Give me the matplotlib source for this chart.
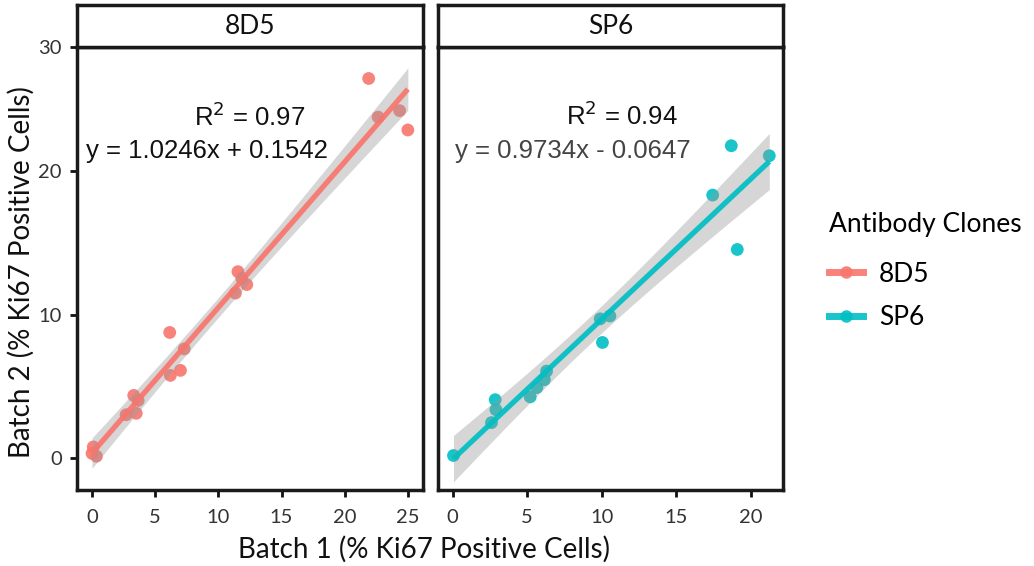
import numpy as np
import matplotlib
matplotlib.use("Agg")
import matplotlib.pyplot as plt
from matplotlib.lines import Line2D

# ---- data ----
clones = ["8D5", "SP6"]
colors = ["#F8766D", "#00BFC4"]

x_8d5 = [0.0, 0.1, 0.35, 2.7, 3.3, 3.5, 3.65, 6.2, 6.15, 7.0, 7.3,
         11.35, 11.55, 11.85, 12.25, 21.9, 22.65, 24.35, 25.0]
y_8d5 = [0.3, 0.75, 0.1, 3.0, 4.35, 3.1, 4.0, 5.75, 8.75, 6.1, 7.6,
         11.5, 13.0, 12.55, 12.1, 26.5, 23.8, 24.25, 22.9]

x_sp6 = [0.05, 2.6, 2.9, 2.85, 5.2, 5.65, 6.15, 6.3, 9.9, 10.05, 10.55,
         17.45, 18.7, 19.1, 21.25]
y_sp6 = [0.15, 2.45, 3.35, 4.05, 4.25, 4.9, 5.45, 6.05, 9.7, 8.05, 9.9,
         18.35, 21.8, 14.55, 21.1]

r2_labels = ["R$^2$ = 0.97", "R$^2$ = 0.94"]
eq_labels = ["y = 1.0246x + 0.1542", "y = 0.9734x - 0.0647"]

y_ticks = [0, 10, 20]
y_tick_labels = ["0", "10", "20", "30"]
x_ticks = [[0, 5, 10, 15, 20, 25], [0, 5, 10, 15, 20]]

xlabel = "Batch 1 (% Ki67 Positive Cells)"
ylabel = "Batch 2 (% Ki67 Positive Cells)"
legend_title = "Antibody Clones"

# ---- figure ----
W, H = 1034, 566
fig = plt.figure(figsize=(W / 100, H / 100), dpi=100)
label_font = ["Lato", "DejaVu Sans"]
eq_font = ["Liberation Sans", "DejaVu Sans"]

panels = [
    dict(x=x_8d5, y=y_8d5, left=77, right=423, xlim=(-1.19, 26.2),
         r2_pos=(12.47, 23.85), eq_pos=(9.07, 21.4), eq_color="#111111"),
    dict(x=x_sp6, y=y_sp6, left=438, right=783, xlim=(-0.99, 22.17),
         r2_pos=(11.34, 23.9), eq_pos=(8.03, 21.4), eq_color="#444444"),
]
top_px, bot_px, strip_top_px = 47, 490, 5
ylim = (-2.26, 28.7)


def t975(df):
    z = 1.959964
    return (z + (z**3 + z) / (4 * df) + (5 * z**5 + 16 * z**3 + 3 * z) / (96 * df**2)
            + (3 * z**7 + 19 * z**5 + 17 * z**3 - 15 * z) / (384 * df**3))


for i, p in enumerate(panels):
    l = p["left"] / W
    w = (p["right"] - p["left"]) / W
    b = 1 - bot_px / H
    h = (bot_px - top_px) / H
    ax = fig.add_axes([l, b, w, h])
    x = np.array(p["x"], float)
    y = np.array(p["y"], float)
    col = colors[i]

    ax.scatter(x, y, s=85, color=col, edgecolors="none", zorder=2, alpha=0.9)

    # linear fit with 95% confidence band (like geom_smooth(method="lm"))
    n = len(x)
    slope, inter = np.polyfit(x, y, 1)
    xs = np.linspace(x.min(), x.max(), 200)
    ys = slope * xs + inter
    resid = y - (slope * x + inter)
    s = np.sqrt(np.sum(resid**2) / (n - 2))
    sxx = np.sum((x - x.mean())**2)
    se = s * np.sqrt(1 / n + (xs - x.mean())**2 / sxx)
    t = t975(n - 2)
    ax.fill_between(xs, ys - t * se, ys + t * se, color="#999999", alpha=0.4,
                    linewidth=0, zorder=3)
    ax.plot(xs, ys, color=col, linewidth=3.8, zorder=4, solid_capstyle="butt",
            alpha=0.92)

    ax.text(*p["r2_pos"], r2_labels[i], ha="center", va="center", fontsize=18.5,
            family=eq_font, color="#111111", zorder=5)
    ax.text(*p["eq_pos"], eq_labels[i], ha="center", va="center", fontsize=18.5,
            family=eq_font, color=p["eq_color"], zorder=5)

    ax.set_xlim(*p["xlim"])
    ax.set_ylim(*ylim)
    ax.set_xticks(x_ticks[i])
    ax.set_xticklabels([str(v) for v in x_ticks[i]], family=label_font,
                       fontsize=14.5, color="#333333")
    if i == 0:
        ax.set_yticks(y_ticks + [ylim[1]])
        ax.set_yticklabels(y_tick_labels, family=label_font, fontsize=14.5,
                           color="#333333")
    else:
        ax.set_yticks([])
    ax.tick_params(axis="both", direction="out", length=5, width=2, color="#111111")
    ax.tick_params(axis="x", pad=9)
    ax.tick_params(axis="y", pad=6)
    for sp in ax.spines.values():
        sp.set_linewidth(2.5)
        sp.set_color("#1a1a1a")
    ax.set_facecolor("white")

    # strip
    sax = fig.add_axes([l, 1 - top_px / H, w, (top_px - strip_top_px) / H])
    sax.set_xticks([])
    sax.set_yticks([])
    for sp in sax.spines.values():
        sp.set_linewidth(2.5)
        sp.set_color("#1a1a1a")
    sax.text(0.5, 0.5, clones[i], ha="center", va="center", fontsize=19,
             family=label_font, color="#111111", transform=sax.transAxes)

# axis titles
fig.text((237 + 610) / 2 / W, 1 - 549 / H, xlabel, ha="center", va="center",
         fontsize=20, family=label_font, color="#111111")
fig.text(21 / W, 1 - 272 / H, ylabel, ha="center", va="center", rotation=90,
         fontsize=20, family=label_font, color="#111111")

# legend
handles = [Line2D([0], [0], color=c, linewidth=5, marker="o", markersize=9,
                  markeredgewidth=0, alpha=0.9) for c in colors]
leg = fig.legend(handles, clones, title=legend_title, loc="upper left",
                 bbox_to_anchor=(829 / W, 1 - 212 / H), frameon=False,
                 borderpad=0, borderaxespad=0,
                 prop=dict(family=label_font, size=19),
                 title_fontproperties=dict(family=label_font, size=19),
                 handlelength=1.3, labelspacing=0.7, handletextpad=0.6)
leg._legend_box.align = "left"
leg._legend_box.sep = 0.7 * 19 + 4.5

fig.savefig("out.png", dpi=100, facecolor="white")
